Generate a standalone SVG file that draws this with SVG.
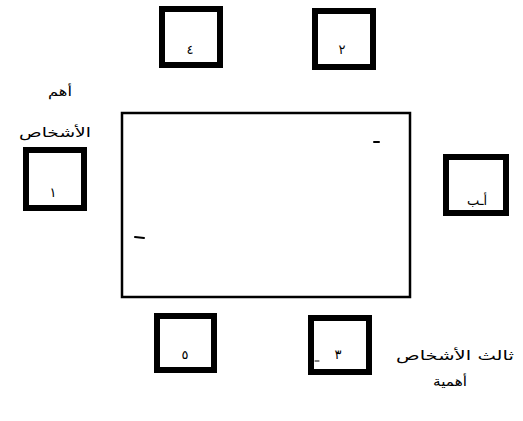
<svg xmlns="http://www.w3.org/2000/svg" width="523" height="421" viewBox="0 0 523 421">
<style>
.chair{fill:#fff;stroke:#000;stroke-width:6}
.table{fill:#fff;stroke:#000;stroke-width:2.5}
.lbl{font-family:"DejaVu Sans","Noto Sans",sans-serif;font-size:13px;fill:#000;text-anchor:middle}
.note{font-family:"DejaVu Sans","Noto Sans",sans-serif;font-size:13px;fill:#000;text-anchor:middle}
.mark{stroke:#000;stroke-width:2;stroke-linecap:round}
</style>
<rect width="523" height="421" fill="#fff"/>
<g id="table">
<rect class="table" x="122" y="113" width="288" height="184"/>
<line class="mark" x1="374" y1="142" x2="379" y2="142"/>
<line class="mark" x1="135" y1="237" x2="144" y2="238"/>
</g>
<g id="seat-4">
<rect class="chair" x="162" y="9" width="58" height="56"/>
<text class="lbl" x="190" y="54">٤</text>
</g>
<g id="seat-2">
<rect class="chair" x="315" y="11" width="58" height="56"/>
<text class="lbl" x="342" y="54">٢</text>
</g>
<g id="seat-1">
<rect class="chair" x="26" y="150" width="58" height="58"/>
<text class="lbl" x="53" y="197">١</text>
</g>
<g id="seat-ab">
<rect class="chair" x="446" y="157" width="60" height="56"/>
<text class="lbl" x="477" y="205">أـب</text>
</g>
<g id="seat-5">
<rect class="chair" x="157" y="316" width="57" height="54"/>
<text class="lbl" x="185" y="359">٥</text>
</g>
<g id="seat-3">
<rect class="chair" x="311" y="318" width="58" height="54"/>
<text class="lbl" x="338" y="359">٣</text>
<line class="mark" x1="315" y1="361" x2="319" y2="361" style="stroke-width:1"/>
</g>
<g id="notes">
<text class="note" x="60" y="96" textLength="24" lengthAdjust="spacingAndGlyphs">أهم</text>
<text class="note" x="55" y="137" textLength="72" lengthAdjust="spacingAndGlyphs">الأشخاص</text>
<text class="note" x="455" y="360" textLength="118" lengthAdjust="spacingAndGlyphs">ثالث الأشخاص</text>
<text class="note" x="450" y="386" textLength="34" lengthAdjust="spacingAndGlyphs">أهمية</text>
</g>
</svg>
